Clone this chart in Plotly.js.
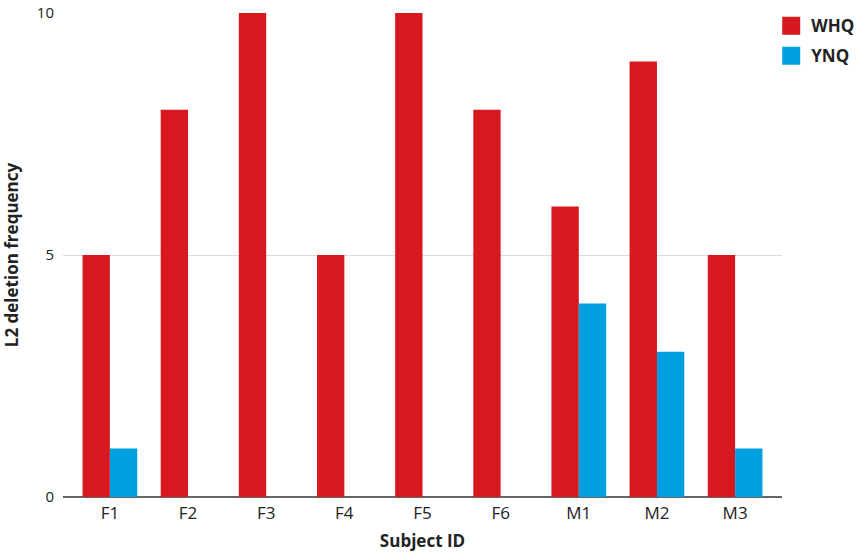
<!DOCTYPE html>
<html><head><meta charset="utf-8">
<script src="https://cdn.plot.ly/plotly-3.0.1.min.js"></script>
<style>body{margin:0;background:#fff}#c{width:860px;height:554px}</style>
</head><body><div id="c"></div>
<script>
const subjects = ["F1","F2","F3","F4","F5","F6","M1","M2","M3"];
const whq = [5,8,10,5,10,8,6,9,5];
const ynq = [1,0,0,0,0,0,4,3,1];
const yTicks = [0,5,10];
const seriesNames = ["WHQ","YNQ"];
const colors = ["#d7181e","#009fe0"];

const font = "Open Sans, Lato, sans-serif";
const data = [
  {type:"bar", name:seriesNames[0], x:subjects, y:whq, marker:{color:colors[0]}, showlegend:false},
  {type:"bar", name:seriesNames[1], x:subjects, y:ynq, marker:{color:colors[1]}, showlegend:false},
  {type:"scatter", mode:"markers", name:seriesNames[0], legendgroup:"a", x:[null], y:[null],
    marker:{symbol:"square", size:17, color:colors[0], line:{color:colors[0], width:2}}},
  {type:"scatter", mode:"markers", name:seriesNames[1], legendgroup:"b", x:[null], y:[null],
    marker:{symbol:"square", size:17, color:colors[1], line:{color:colors[1], width:2}}}
];
const layout = {
  width:860, height:554,
  margin:{l:63, r:78, t:13, b:57, autoexpand:false},
  paper_bgcolor:"#fff", plot_bgcolor:"#fff",
  barmode:"group", bargap:0.3, bargroupgap:0,
  font:{family:font, color:"#222", size:15},
  xaxis:{range:[-0.6,8.6], showgrid:false, ticks:"", showline:false, ticklabelstandoff:4,
    tickfont:{size:17}, title:{text:"<b>Subject ID</b>", font:{size:17}, standoff:12}},
  yaxis:{range:[0,10], tickvals:yTicks, ticktext:yTicks.map(String), showgrid:true, gridcolor:"#dcdcdc",
    zeroline:true, zerolinecolor:"#666", zerolinewidth:1.5, ticks:"", tickfont:{size:15}, ticklabelstandoff:8,
    title:{text:"<b>L2 deletion frequency</b>", font:{size:17}, standoff:13}},
  legend:{x:0.985, xanchor:"left", y:1.01, yanchor:"top", font:{size:17, weight:700}, tracegroupgap:5, itemwidth:30},
  showlegend:true
};
Plotly.newPlot("c", data, layout, {displayModeBar:false});
</script></body></html>
